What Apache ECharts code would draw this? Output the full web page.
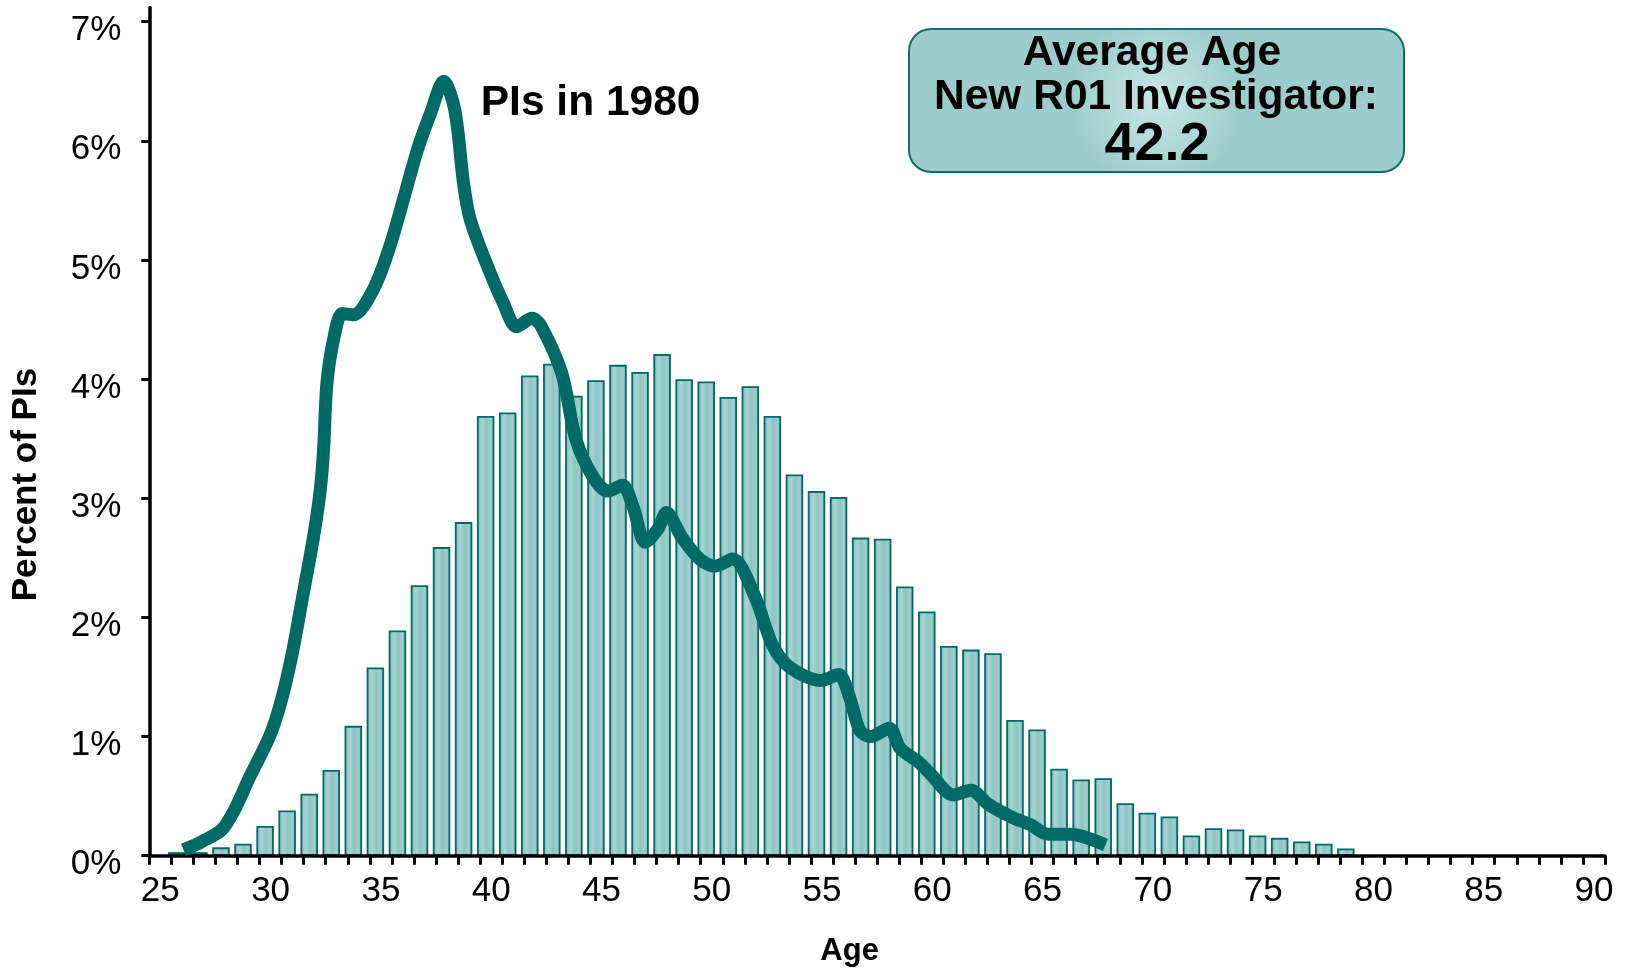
<!DOCTYPE html>
<html>
<head>
<meta charset="utf-8">
<title>Age distribution of PIs</title>
<script src="https://cdn.jsdelivr.net/npm/echarts@6/dist/echarts.min.js"></script>
<style>
  html, body { margin: 0; padding: 0; background: #fff; }
  #chart { width: 1633px; height: 970px; }
</style>
</head>
<body>
<div id="chart"></div>
<script>
// x categories (ages) shown on the axis
const ageCategories = ['25','26','27','28','29','30','31','32','33','34','35','36','37','38','39',
  '40','41','42','43','44','45','46','47','48','49','50','51','52','53','54','55','56','57','58','59',
  '60','61','62','63','64','65','66','67','68','69','70','71','72','73','74','75','76','77','78','79',
  '80','81','82','83','84','85','86','87','88','89','90'];
const yTickValues = [0, 1, 2, 3, 4, 5, 6, 7];

// bars: percent of new R01 investigators by age
const barAges = [26, 27, 28, 29, 30, 31, 32, 33, 34, 35, 36, 37, 38, 39, 40, 41, 42, 43, 44, 45,
  46, 47, 48, 49, 50, 51, 52, 53, 54, 55, 56, 57, 58, 59, 60, 61, 62, 63, 64, 65, 66, 67, 68, 69,
  70, 71, 72, 73, 74, 75, 76, 77, 78, 79];
const barPcts = [0.03, 0.03, 0.07, 0.10, 0.25, 0.38, 0.52, 0.72, 1.09, 1.58, 1.89, 2.27, 2.59, 2.80,
  3.69, 3.72, 4.03, 4.13, 3.86, 3.99, 4.12, 4.06, 4.21, 4.00, 3.98, 3.85, 3.94, 3.69, 3.20, 3.06,
  3.01, 2.67, 2.66, 2.26, 2.05, 1.76, 1.73, 1.70, 1.14, 1.06, 0.73, 0.64, 0.65, 0.44, 0.36, 0.33,
  0.17, 0.23, 0.22, 0.17, 0.15, 0.12, 0.10, 0.06];

// line: PIs in 1980
const lineAges = [26.3, 27.15, 28.05, 28.6, 29.3, 30.2, 30.7, 31.2, 31.7, 32.2, 32.5, 32.65, 32.8,
  33.1, 33.5, 34.0, 34.9, 35.7, 36.9, 37.5, 38.1, 38.6, 39.0, 39.3, 40.1, 40.8, 41.4, 42.1, 42.5,
  43.45, 44.1, 44.9, 45.55, 46.2, 46.7, 47.24, 47.8, 48.2, 48.9, 49.7, 50.4, 51.2, 52.2, 53.0, 53.8,
  55.2, 56.0, 56.5, 56.97, 57.45, 58.3, 58.8, 59.6, 60.2, 61.2, 62.0, 62.8, 63.9, 64.7, 65.5, 66.5, 68.1];
const linePcts = [0.05, 0.12, 0.22, 0.38, 0.66, 1.00, 1.28, 1.67, 2.17, 2.68, 3.07, 3.40, 3.96,
  4.33, 4.55, 4.54, 4.75, 5.14, 5.92, 6.23, 6.50, 6.26, 5.64, 5.34, 4.94, 4.64, 4.44, 4.51, 4.45,
  4.05, 3.49, 3.17, 3.06, 3.11, 2.92, 2.63, 2.74, 2.88, 2.67, 2.49, 2.43, 2.49, 2.18, 1.77, 1.58,
  1.47, 1.52, 1.33, 1.05, 1.00, 1.07, 0.90, 0.79, 0.68, 0.51, 0.55, 0.43, 0.32, 0.26, 0.18, 0.18, 0.09];

const avgAgeLines = ['Average Age', 'New R01 Investigator:', '42.2'];

const FONT = '"Liberation Sans", Arial, sans-serif';

const barData = barAges.map((a, i) => [a, barPcts[i]]);
const lineData = lineAges.map((a, i) => [a, linePcts[i]]);
const peakIdx = linePcts.indexOf(Math.max(...linePcts));

const chart = echarts.init(document.getElementById('chart'), null, { renderer: 'canvas' });

chart.setOption({
  animation: false,
  backgroundColor: '#fff',
  grid: {
    left: 149.3,
    right: 28,
    top: 7.4,
    bottom: 114.3,
    containLabel: false,
    outerBoundsMode: 'none'
  },
  xAxis: [
    {
      type: 'category',
      data: ageCategories,
      boundaryGap: true,
      z: 10,
      name: 'Age',
      nameLocation: 'middle',
      nameGap: 80,
      nameTextStyle: {
        fontFamily: FONT, fontSize: 31, fontWeight: 'bold', color: '#000',
        padding: [0, 55, 0, 0]
      },
      axisLine: { lineStyle: { color: '#000', width: 3.5 } },
      axisTick: { show: true, interval: 0, length: 9, lineStyle: { color: '#000', width: 3 } },
      axisLabel: {
        interval: 4, margin: 18,
        fontFamily: FONT, fontSize: 35, color: '#000'
      },
      splitLine: { show: false }
    },
    {
      // hidden companion axis: bars and curve sit a little left of the category centres
      type: 'value',
      min: 24.75,
      max: 90.75,
      show: false
    }
  ],
  yAxis: {
    type: 'value',
    min: 0,
    max: 7.12,
    name: 'Percent of PIs',
    nameLocation: 'middle',
    nameRotate: 90,
    nameGap: 105,
    nameTextStyle: {
      fontFamily: FONT, fontSize: 35, fontWeight: 'bold', color: '#000',
      padding: [0, 106, 0, 0]
    },
    axisLine: { show: true, lineStyle: { color: '#000', width: 3.5 } },
    axisTick: {
      show: true, length: 8, customValues: yTickValues,
      lineStyle: { color: '#000', width: 3 }
    },
    axisLabel: {
      customValues: yTickValues,
      margin: 28,
      verticalAlign: 'top',
      lineHeight: 18,
      fontFamily: FONT, fontSize: 35, color: '#000',
      formatter: v => (Number.isInteger(v) ? v + '%' : '')
    },
    splitLine: { show: false }
  },
  series: [
    {
      name: 'New R01 Investigators',
      type: 'bar',
      xAxisIndex: 1,
      data: barData,
      barWidth: 17.5,
      z: 2,
      itemStyle: {
        // 设置柱状渐变色
        color: new echarts.graphic.LinearGradient(0, 0, 1, 0, [
          { offset: 0, color: '#80b9b7' },
          { offset: 0.3, color: '#a6d5d3' },
          { offset: 0.55, color: '#8fc4c2' },
          { offset: 0.8, color: '#9ecfcd' },
          { offset: 1, color: '#6fa9a7' }
        ]),
        borderColor: '#006b68',
        borderWidth: 1.8
      }
    },
    {
      name: 'PIs in 1980',
      type: 'line',
      xAxisIndex: 1,
      data: lineData,
      smooth: 0.3,
      showSymbol: false,
      symbol: 'none',
      z: 12,
      lineStyle: { color: '#006a66', width: 13, join: 'round' },
      markPoint: {
        symbol: 'circle',
        symbolSize: 0,
        data: [{
          coord: lineData[peakIdx],
          label: {
            show: true,
            formatter: 'PIs in 1980',
            position: 'right',
            distance: 37,
            offset: [0, 22],
            fontFamily: FONT, fontSize: 42.5, fontWeight: 'bold', color: '#000'
          }
        }]
      }
    }
  ],
  graphic: [
    {
      type: 'group',
      children: [
        {
          type: 'rect',
          shape: { x: 909, y: 29, width: 495, height: 143, r: 22 },
          style: {
            fill: new echarts.graphic.RadialGradient(0.5, 0.5, 0.6, [
              { offset: 0, color: '#c8e6e5' },
              { offset: 1, color: '#9ccdcc' }
            ]),
            stroke: '#0b6f6b',
            lineWidth: 2
          }
        },
        {
          type: 'text', x: 1152, y: 53,
          style: {
            text: avgAgeLines[0], fill: '#000', align: 'center', verticalAlign: 'middle',
            font: 'bold 42.5px ' + FONT
          }
        },
        {
          type: 'text', x: 1156, y: 97.5,
          style: {
            text: avgAgeLines[1], fill: '#000', align: 'center', verticalAlign: 'middle',
            font: 'bold 42.5px ' + FONT
          }
        },
        {
          type: 'text', x: 1157, y: 145,
          style: {
            text: avgAgeLines[2], fill: '#000', align: 'center', verticalAlign: 'middle',
            font: 'bold 54px ' + FONT
          }
        }
      ]
    }
  ]
});
</script>
</body>
</html>
